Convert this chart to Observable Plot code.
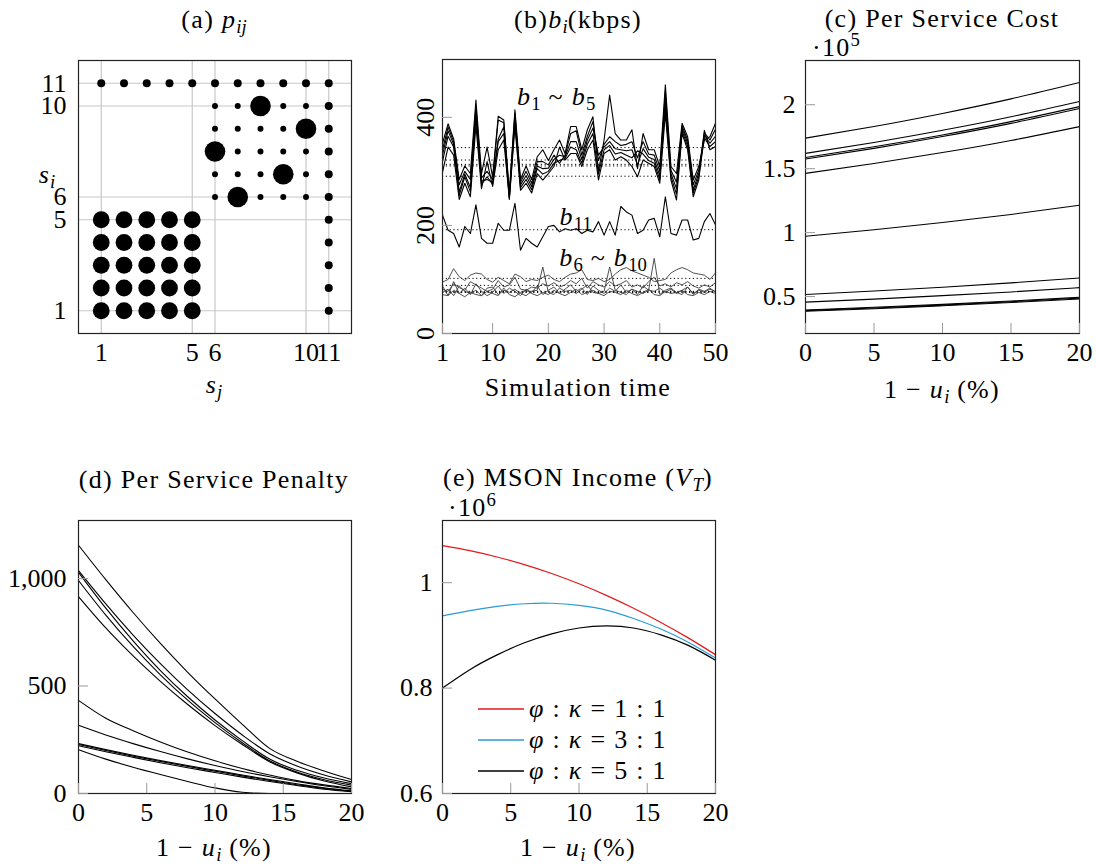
<!DOCTYPE html>
<html><head><meta charset="utf-8">
<script src="https://cdn.jsdelivr.net/npm/d3@7"></script>
<script src="https://cdn.jsdelivr.net/npm/@observablehq/plot@0.6"></script>
<style>
body{margin:0;background:#fff;}
#root{position:relative;width:1096px;height:866px;overflow:hidden;font-family:"Liberation Serif",serif;color:#000;}
.lbl{position:absolute;white-space:nowrap;font-size:26px;line-height:1;letter-spacing:0.05em;}
.lbl sub{font-size:0.72em;vertical-align:-0.28em;line-height:0;letter-spacing:0;}
.lbl sup{font-size:0.72em;vertical-align:0.55em;line-height:0;letter-spacing:0;}
</style></head><body><div id="root"></div>
<script>
// ---------- (a) p_ij matrix (row = s_i 1..11, col = s_j 1..11)
const ticksA = [1, 5, 6, 10, 11];
const pMatrix = [
  [0.2, 0.2, 0.2, 0.2, 0.2, 0, 0, 0, 0, 0, 0.045],
  [0.2, 0.2, 0.2, 0.2, 0.2, 0, 0, 0, 0, 0, 0.045],
  [0.2, 0.2, 0.2, 0.2, 0.2, 0, 0, 0, 0, 0, 0.045],
  [0.2, 0.2, 0.2, 0.2, 0.2, 0, 0, 0, 0, 0, 0.045],
  [0.2, 0.2, 0.2, 0.2, 0.2, 0, 0, 0, 0, 0, 0.045],
  [0, 0, 0, 0, 0, 0.025, 0.3, 0.025, 0.025, 0.025, 0.045],
  [0, 0, 0, 0, 0, 0.025, 0.025, 0.025, 0.3, 0.025, 0.045],
  [0, 0, 0, 0, 0, 0.3, 0.025, 0.025, 0.025, 0.025, 0.045],
  [0, 0, 0, 0, 0, 0.025, 0.025, 0.025, 0.025, 0.3, 0.045],
  [0, 0, 0, 0, 0, 0.025, 0.025, 0.3, 0.025, 0.025, 0.045],
  [0.045, 0.045, 0.045, 0.045, 0.045, 0.045, 0.045, 0.045, 0.045, 0.045, 0.045]
];

// ---------- (b) b_i (kbps) over simulation time 1..50
const ticksBx = [1, 10, 20, 30, 40, 50];
const ticksBy = [0, 200, 400];
const b1 = [352,388,360,285,310,296,432,296,345,290,402,395,262,414,285,310,285,327,340,320,340,358,333,383,383,340,377,401,300,358,441,370,358,358,377,305,370,340,340,309,460,309,296,389,364,284,309,358,364,389];
const b2 = [340,382,355,275,300,285,420,288,300,285,395,390,258,408,280,300,278,318,318,312,330,315,330,370,375,330,365,392,320,350,364,355,348,350,355,325,355,332,330,300,448,302,280,384,358,275,302,372,358,378];
const b3 = [330,375,350,262,295,270,412,282,285,280,360,382,252,400,275,292,272,310,305,306,322,330,327,355,355,322,358,380,330,345,355,342,340,338,340,312,342,326,322,292,435,296,268,380,352,266,296,367,352,365];
const b4 = [318,365,345,255,290,262,400,276,290,276,355,370,250,392,270,285,266,305,295,300,315,320,324,345,340,315,350,370,295,340,348,332,335,330,325,338,332,320,315,285,420,290,258,375,346,260,290,362,346,355];
const b5 = [298,345,330,248,278,253,385,268,318,272,340,358,248,383,265,278,260,296,284,296,309,345,321,333,333,309,340,358,284,333,340,321,327,321,309,290,321,315,309,278,407,284,247,370,340,253,284,376,340,346];
const b6 = [95,100,120,105,98,108,112,110,100,95,104,98,92,110,105,96,100,98,104,108,100,96,104,110,112,118,100,98,102,96,100,110,118,122,116,112,108,104,96,98,100,112,118,122,118,112,110,108,100,112];
const b7 = [82,78,92,85,80,96,90,84,78,82,98,86,90,104,82,80,86,84,92,88,94,86,90,98,92,102,84,96,90,86,96,88,92,98,86,90,84,96,104,88,92,86,94,90,96,88,84,90,86,94];
const b8 = [88,70,96,74,84,72,92,78,70,76,88,74,84,78,70,82,76,88,72,80,86,74,82,90,78,84,72,88,80,74,84,78,90,76,82,72,88,80,78,84,76,82,74,80,86,72,82,78,84,76];
const b9 = [76,82,70,88,78,74,80,70,84,86,72,80,76,82,74,70,78,80,123,76,72,84,78,80,74,82,90,76,74,78,123,80,76,72,82,78,74,80,139,72,80,84,76,72,86,74,80,76,82,78];
const b10 = [72,70,80,74,68,76,72,70,78,74,70,84,72,68,76,80,74,70,76,72,80,74,70,76,82,72,76,80,74,70,78,76,72,80,74,70,76,82,72,70,78,74,76,80,72,70,76,72,78,74];
const b11 = [219,191,185,160,198,185,238,176,167,167,204,191,191,241,154,176,167,160,179,198,200,188,194,191,194,185,191,188,207,182,207,182,235,225,219,185,191,210,213,179,253,185,182,210,210,173,176,207,222,201];
const meansB = [344, 321, 313, 310, 291, 102, 89, 78, 77, 76, 192];

// ---------- (c) Per service cost (x10^5) vs 1 - u_i (%)
const xsC = [0, 5, 10, 15, 20];
const ticksCy = [0.5, 1, 1.5, 2];
const costS1 = [1.739, 1.830, 1.932, 2.046, 2.174];
const costS2 = [1.620, 1.705, 1.800, 1.906, 2.025];
const costS3 = [1.588, 1.672, 1.764, 1.868, 1.985];
const costS4 = [1.576, 1.659, 1.751, 1.854, 1.970];
const costS5 = [1.463, 1.540, 1.626, 1.721, 1.829];
const costS6 = [0.516, 0.543, 0.573, 0.607, 0.645];
const costS7 = [0.456, 0.480, 0.507, 0.536, 0.570];
const costS8 = [0.395, 0.416, 0.439, 0.465, 0.494];
const costS9 = [0.390, 0.411, 0.433, 0.459, 0.488];
const costS10 = [0.385, 0.405, 0.428, 0.453, 0.481];
const costS11 = [0.971, 1.022, 1.079, 1.142, 1.214];

// ---------- (d) Per service penalty vs 1 - u_i (%)
const xsD = [0, 2, 4, 6, 8, 10, 12, 14, 16, 18, 20];
const ticksU = [0, 5, 10, 15, 20];
const ticksDy = [0, 500, 1000];
const penS1 = [1155, 995, 842, 698, 564, 440, 322, 210, 150, 105, 65];
const penS2 = [1037, 882, 737, 604, 482, 372, 272, 185, 128, 86, 54];
const penS3 = [1029, 862, 710, 572, 450, 342, 246, 160, 108, 72, 46];
const penS4 = [991, 830, 684, 552, 434, 330, 236, 152, 100, 64, 39];
const penS5 = [916, 770, 640, 522, 414, 316, 228, 148, 96, 58, 31];
const penS6 = [433, 350, 292, 240, 193, 152, 116, 86, 60, 40, 23];
const penS7 = [317, 272, 232, 195, 161, 130, 102, 78, 56, 36, 19];
const penS8 = [232, 204, 178, 153, 130, 108, 86, 65, 45, 26, 12];
const penS9 = [228, 200, 174, 149, 126, 104, 82, 61, 41, 23, 10];
const penS10 = [222, 194, 168, 143, 120, 98, 76, 56, 37, 20, 8];
const penS11 = [204, 160, 122, 88, 56, 26, 6, 0, 0, 0, 0];

// ---------- (e) MSON income V_T (x10^6)
const ticksEy = [0.6, 0.8, 1];
const ratioLabels = ["1 : 1", "3 : 1", "5 : 1"];
const ratioColors = ["#e3191c", "#2a9bd6", "#000000"];
const incomeR11 = [1.0704, 1.0609, 1.0488, 1.0343, 1.0174, 0.9979, 0.9760, 0.9515, 0.9246, 0.8953, 0.8634];
const incomeR31 = [0.937, 0.947, 0.955, 0.960, 0.961, 0.957, 0.948, 0.932, 0.912, 0.887, 0.857];
const incomeR51 = [0.800, 0.835, 0.863, 0.886, 0.903, 0.914, 0.918, 0.914, 0.901, 0.881, 0.853];

// ================= drawing =================
const root = document.getElementById("root");
const FONT = "Liberation Serif";
const baseStyle = {fontFamily: FONT, fontSize: "26px", background: "transparent", overflow: "visible", color: "black"};
const FW = 273, FH = 273;
const TICK = "#9a9a9a";

function place(svg, left, top) {
  svg.style.position = "absolute";
  svg.style.left = left + "px";
  svg.style.top = top + "px";
  root.appendChild(svg);
  return svg;
}
function label(html, x, y, anchor = "middle") {
  const d = document.createElement("div");
  d.className = "lbl";
  d.innerHTML = html;
  d.style.left = x + "px";
  d.style.top = y + "px";
  d.style.transform = anchor === "start" ? "translate(0,-50%)" : "translate(-50%,-50%)";
  root.appendChild(d);
  return d;
}
function toRows(xs, list) {
  return list.flatMap((vals, k) => vals.map((v, i) => ({x: xs[i], v, s: k})));
}

// ---- (a)
const cellsA = pMatrix.flatMap((row, r) => row.map((p, c) => ({i: r + 1, j: c + 1, p}))).filter(d => d.p > 0);
const A = {left: 8, top: 10, ml: 70, mt: 50, mr: 20, mb: 60};
const chartA = Plot.plot({
  width: A.ml + FW + A.mr, height: A.mt + FH + A.mb,
  marginLeft: A.ml, marginTop: A.mt, marginRight: A.mr, marginBottom: A.mb,
  style: baseStyle,
  x: {domain: [0, 12], label: null},
  y: {domain: [0, 12], label: null},
  r: {type: "sqrt", domain: [0, 0.3], range: [0, 10.3]},
  marks: [
    Plot.gridX({ticks: ticksA, stroke: "#c8c8c8", strokeOpacity: 1, strokeWidth: 1.2}),
    Plot.gridY({ticks: ticksA, stroke: "#c8c8c8", strokeOpacity: 1, strokeWidth: 1.2}),
    Plot.dot(cellsA, {x: "j", y: "i", r: "p", fill: "black"}),
    Plot.frame({stroke: "#222", strokeWidth: 1.2}),
    Plot.axisX({ticks: ticksA, tickSize: 0, tickPadding: 9, tickFormat: d => String(d), label: null}),
    Plot.axisY({ticks: ticksA, tickSize: 0, tickPadding: 12, tickFormat: d => String(d), label: null})
  ]
});
place(chartA, A.left, A.top);

// ---- (b)
const B = {left: 382, top: 10, ml: 60, mt: 49, mr: 25, mb: 60};
const seriesB = [b1, b2, b3, b4, b5, b6, b7, b8, b9, b10, b11];
const rowsB = seriesB.flatMap((vals, k) => vals.map((v, i) => ({t: i + 1, v, s: k})));
const chartB = Plot.plot({
  width: B.ml + FW + B.mr, height: B.mt + 274 + B.mb,
  marginLeft: B.ml, marginTop: B.mt, marginRight: B.mr, marginBottom: B.mb,
  style: baseStyle,
  x: {domain: [1, 50], label: null},
  y: {domain: [0, 507], label: null},
  marks: [
    Plot.ruleY(meansB, {stroke: "black", strokeWidth: 1, strokeDasharray: "1.2,2.6"}),
    Plot.line(rowsB.filter(d => d.s >= 5 && d.s <= 9), {x: "t", y: "v", z: "s", stroke: "#3c3c3c", strokeWidth: 0.9}),
    Plot.line(rowsB.filter(d => d.s === 10), {x: "t", y: "v", z: "s", stroke: "black", strokeWidth: 1.1}),
    Plot.line(rowsB.filter(d => d.s < 5), {x: "t", y: "v", z: "s", stroke: "black", strokeWidth: 1.1}),
    Plot.frame({stroke: "#222", strokeWidth: 1.2}),
    Plot.axisX({ticks: ticksBx, tickSize: -10, tickPadding: 19, stroke: TICK, label: null, tickFormat: d => String(d)}),
    Plot.axisY({ticks: ticksBy, tickSize: -10, tickPadding: 19, tickRotate: -90, stroke: TICK, label: null, tickFormat: d => String(d)})
  ]
});
place(chartB, B.left, B.top);
const bx = chartB.scale("x"), by = chartB.scale("y");
const labelsB = [
  {html: "<i>b</i><sub>1</sub> ~ <i>b</i><sub>5</sub>", t: 21.5, v: 436},
  {html: "<i>b</i><sub>11</sub>", t: 25.0, v: 215},
  {html: "<i>b</i><sub>6</sub> ~ <i>b</i><sub>10</sub>", t: 29.9, v: 139}
];
labelsB.forEach(l => label(l.html, B.left + bx.apply(l.t), B.top + by.apply(l.v)));

// ---- (c)
const C = {left: 735, top: 10, ml: 70, mt: 50, mr: 17, mb: 60};
const rowsC = toRows(xsC, [costS1, costS2, costS3, costS4, costS5, costS6, costS7, costS8, costS9, costS10, costS11]);
const chartC = Plot.plot({
  width: C.ml + 274 + C.mr, height: C.mt + FH + C.mb,
  marginLeft: C.ml, marginTop: C.mt, marginRight: C.mr, marginBottom: C.mb,
  style: baseStyle,
  x: {domain: [0, 20], label: null},
  y: {domain: [0.211, 2.346], label: null},
  marks: [
    Plot.line(rowsC, {x: "x", y: "v", z: "s", stroke: "black", strokeWidth: 1.1, curve: "natural"}),
    Plot.frame({stroke: "#222", strokeWidth: 1.2}),
    Plot.axisX({ticks: ticksU, tickSize: -10, tickPadding: 19, stroke: TICK, label: null, tickFormat: d => String(d)}),
    Plot.axisY({ticks: ticksCy, tickSize: -10, tickPadding: 20, stroke: TICK, label: null, tickFormat: d => String(d)})
  ]
});
place(chartC, C.left, C.top);

// ---- (d)
const D = {left: 8, top: 470, ml: 70, mt: 50, mr: 20, mb: 60};
const rowsD = toRows(xsD, [penS1, penS2, penS3, penS4, penS5, penS6, penS7, penS8, penS9, penS10, penS11]);
const chartD = Plot.plot({
  width: D.ml + FW + D.mr, height: D.mt + FH + D.mb,
  marginLeft: D.ml, marginTop: D.mt, marginRight: D.mr, marginBottom: D.mb,
  style: baseStyle,
  x: {domain: [0, 20], label: null},
  y: {domain: [0, 1270], label: null},
  marks: [
    Plot.line(rowsD, {x: "x", y: "v", z: "s", stroke: "black", strokeWidth: 1.1, curve: "monotone-x"}),
    Plot.frame({stroke: "#222", strokeWidth: 1.2}),
    Plot.axisX({ticks: ticksU, tickSize: -10, tickPadding: 19, stroke: TICK, label: null, tickFormat: d => String(d)}),
    Plot.axisY({ticks: ticksDy, tickSize: -10, tickPadding: 22, stroke: TICK, label: null, tickFormat: d3.format(",")})
  ]
});
place(chartD, D.left, D.top);

// ---- (e)
const E = {left: 382, top: 470, ml: 60, mt: 50, mr: 25, mb: 60};
const rowsE = toRows(xsD, [incomeR11, incomeR31, incomeR51]);
const chartE = Plot.plot({
  width: E.ml + FW + E.mr, height: E.mt + FH + E.mb,
  marginLeft: E.ml, marginTop: E.mt, marginRight: E.mr, marginBottom: E.mb,
  style: baseStyle,
  x: {domain: [0, 20], label: null},
  y: {domain: [0.6, 1.118], label: null},
  color: {domain: [0, 1, 2], range: ratioColors},
  marks: [
    Plot.line(rowsE, {x: "x", y: "v", z: "s", stroke: "s", strokeWidth: 1.2, curve: "natural"}),
    Plot.frame({stroke: "#222", strokeWidth: 1.2}),
    Plot.axisX({ticks: ticksU, tickSize: -10, tickPadding: 19, stroke: TICK, label: null, tickFormat: d => String(d)}),
    Plot.axisY({ticks: ticksEy, tickSize: -10, tickPadding: 20, stroke: TICK, label: null, tickFormat: d => String(d)})
  ]
});
place(chartE, E.left, E.top);

// legend (e)
ratioLabels.forEach((txt, k) => {
  const y = 709 + k * 31;
  const d = document.createElement("div");
  d.className = "lbl";
  d.style.left = "478px"; d.style.top = y + "px"; d.style.transform = "translate(0,-50%)";
  d.style.display = "flex"; d.style.alignItems = "center";
  d.innerHTML = `<svg width="46" height="4" style="margin-right:5px"><line x1="0" y1="2" x2="46" y2="2" stroke="${ratioColors[k]}" stroke-width="1.3"/></svg><span><i>φ</i> : <i>κ</i> = ${txt}</span>`;
  root.appendChild(d);
});

// titles and axis labels
label("(a) <i>p</i><sub><i>ij</i></sub>", 214, 20);
label("(b)<i>b</i><sub><i>i</i></sub>(kbps)", 578, 20);
label("(c) Per Service Cost", 942, 19);
label("·10<sup>5</sup>", 812, 48, "start");
label("<i>s</i><sub><i>j</i></sub>", 214, 385);
label("<i>s</i><sub><i>i</i></sub>", 47, 175);
label("Simulation time", 578, 388);
label("1 − <i>u</i><sub><i>i</i></sub> (%)", 942, 390);
label("(d) Per Service Penalty", 214, 480);
label("(e) MSON Income (<i>V</i><sub><i>T</i></sub>)", 578, 478);
label("·10<sup>6</sup>", 448, 508, "start");
label("1 − <i>u</i><sub><i>i</i></sub> (%)", 214, 848);
label("1 − <i>u</i><sub><i>i</i></sub> (%)", 578, 848);
</script></body></html>
